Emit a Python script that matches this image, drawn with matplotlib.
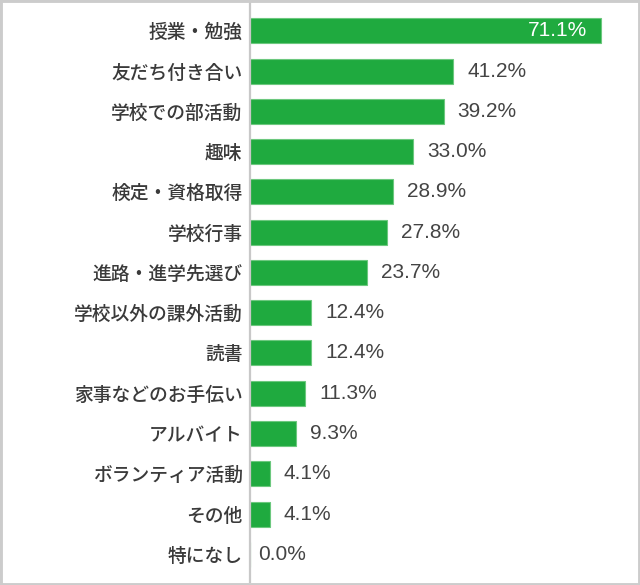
import matplotlib
matplotlib.use("Agg")
import matplotlib.pyplot as plt
from matplotlib.patches import Rectangle

plt.rcParams['font.family'] = ['Noto Sans CJK JP', 'DejaVu Sans']

categories = ["授業・勉強", "友だち付き合い", "学校での部活動", "趣味", "検定・資格取得",
              "学校行事", "進路・進学先選び", "学校以外の課外活動", "読書",
              "家事などのお手伝い", "アルバイト", "ボランティア活動", "その他", "特になし"]
values = [71.1, 41.2, 39.2, 33.0, 28.9, 27.8, 23.7, 12.4, 12.4, 11.3, 9.3, 4.1, 4.1, 0.0]

W, H = 640, 585
fig = plt.figure(figsize=(W / 100, H / 100), dpi=100)
fig.patch.set_facecolor('white')

left_px = 249.5
ax = fig.add_axes([left_px / W, 3 / H, 1 - left_px / W, 1 - 3 / H])
px_per_unit = 4.95
ax.set_xlim(0, (W - left_px) / px_per_unit)
row = 40.27
first = 30.8
ax.set_ylim((582 - first) / row, -first / row)

ypos = list(range(len(categories)))
ax.barh(ypos, values, height=25 / row, color='#1faa3f', edgecolor='#6cc87e',
        linewidth=0.8, zorder=2)

vfont = dict(family=['Liberation Sans', 'DejaVu Sans'], fontsize=15)
for y, v in zip(ypos, values):
    label = f"{v:.1f}%"
    if v > 60:
        ax.text(v - 14 / px_per_unit, y, label, ha='right', va='center',
                color='white', **vfont)
    else:
        ax.text(v + (14 if v > 0 else 9) / px_per_unit, y, label, ha='left',
                va='center', color='#444444', **vfont)

ax.set_yticks(ypos)
ax.set_yticklabels(categories, fontsize=13.5, color='#3a3a3a', fontweight='medium')
ax.tick_params(axis='y', length=0, pad=5)
ax.set_xticks([])
for s in ['top', 'right', 'bottom']:
    ax.spines[s].set_visible(False)
ax.spines['left'].set_color('#c8c8c8')
ax.spines['left'].set_linewidth(1.6)

fig.add_artist(Rectangle((0, 0), 1, 1, transform=fig.transFigure, fill=False,
                         edgecolor='#cccccc', linewidth=3.5, zorder=10))

fig.savefig('out.png', dpi=100)
